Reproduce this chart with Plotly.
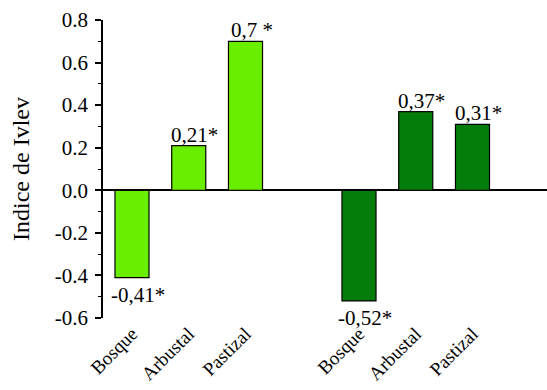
import plotly.graph_objects as go

categories = ["Bosque", "Arbustal", "Pastizal"]
positions_g1 = [0, 1, 2]
positions_g2 = [4, 5, 6]
values_g1 = [-0.41, 0.21, 0.70]
values_g2 = [-0.52, 0.37, 0.31]
labels_g1 = ["-0,41*", "0,21*", "0,7 *"]
labels_g2 = ["-0,52*", "0,37*", "0,31*"]
y_ticks = [-0.6, -0.4, -0.2, 0.0, 0.2, 0.4, 0.6, 0.8]
y_ticktext = ["-0.6", "-0.4", "-0.2", "0.0", "0.2", "0.4", "0.6", "0.8"]

FONT = "Liberation Serif"

fig = go.Figure()
fig.add_trace(go.Bar(x=positions_g1, y=values_g1, width=0.6,
                     marker=dict(color="#6aee00", line=dict(color="black", width=1.2))))
fig.add_trace(go.Bar(x=positions_g2, y=values_g2, width=0.6,
                     marker=dict(color="#057d0a", line=dict(color="black", width=1.2))))

for xs, ys, ls in [(positions_g1, values_g1, labels_g1), (positions_g2, values_g2, labels_g2)]:
    for x, y, l in zip(xs, ys, ls):
        fig.add_annotation(x=x, y=y, text=l, showarrow=False,
                           xshift=6, yshift=(-3 if y >= 0 else -3),
                           yanchor="bottom" if y >= 0 else "top",
                           font=dict(family=FONT, size=21, color="black"))

fig.update_layout(
    width=547, height=390,
    margin=dict(l=103, r=0, t=20, b=72, autoexpand=False),
    paper_bgcolor="white", plot_bgcolor="white",
    showlegend=False,
    font=dict(family=FONT, color="black"),
)
fig.update_xaxes(
    range=[-0.511, 7.313], automargin=False,
    tickvals=positions_g1 + positions_g2,
    ticktext=categories + categories,
    tickangle=-45, tickfont=dict(family=FONT, size=19, color="black"),
    ticklabelstandoff=0,
    showgrid=False, showline=False, zeroline=False, ticks="",
)
fig.update_yaxes(
    range=[-0.6, 0.8], automargin=False,
    tickvals=y_ticks, ticktext=y_ticktext,
    tickfont=dict(family=FONT, size=21, color="black"),
    ticks="outside", ticklen=6, tickwidth=1.5, tickcolor="black",
    ticklabelstandoff=3,
    minor=dict(ticks="outside", ticklen=3, tickwidth=1.2, tickcolor="black", dtick=0.1),
    showline=True, linecolor="black", linewidth=1.5,
    showgrid=False, zeroline=True, zerolinecolor="black", zerolinewidth=1.5,
    title=dict(text="Indice de Ivlev", font=dict(family=FONT, size=24, color="black"), standoff=18),
)

fig.write_html("out.html", config={"displayModeBar": False},
               post_script="document.body.style.margin='0';document.body.style.overflow='hidden';")
